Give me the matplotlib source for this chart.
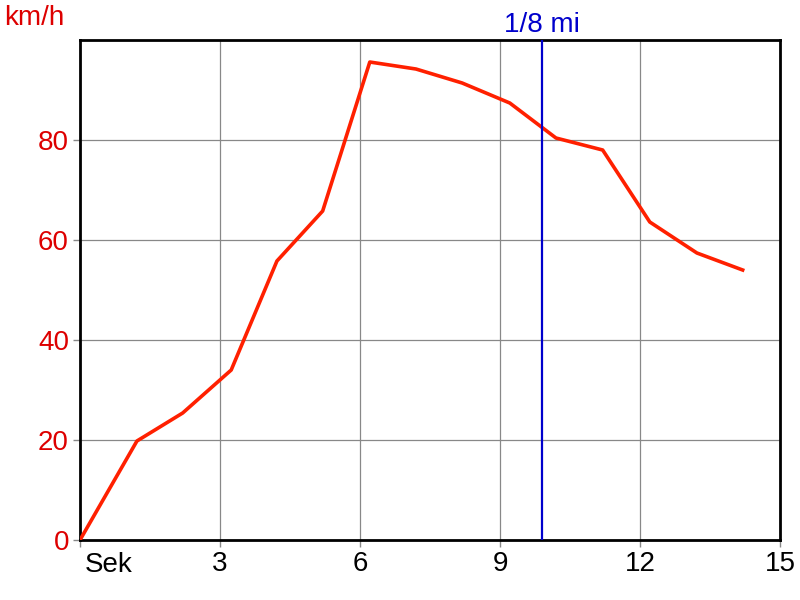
import matplotlib
matplotlib.use('Agg')
import matplotlib.pyplot as plt

plt.rcParams['font.family'] = ['Liberation Sans', 'DejaVu Sans']

# speed over time
seconds = [0, 1.22, 2.2, 3.24, 4.22, 5.2, 6.21, 7.2, 8.19, 9.21, 10.2, 11.2, 12.21, 13.22, 14.2]
speed = [0, 19.8, 25.4, 34.0, 55.8, 65.8, 95.6, 94.2, 91.4, 87.4, 80.4, 78.0, 63.6, 57.4, 54.0]
eighth_mile = 9.9
x_ticks = [0, 3, 6, 9, 12, 15]
x_labels = ['', '3', '6', '9', '12', '15']
y_ticks = [0, 20, 40, 60, 80]

fig = plt.figure(figsize=(8, 6), dpi=100)
ax = fig.add_axes([0.1, 0.1, 0.875, 0.8333])

ax.plot(seconds, speed, color='#ff2000', linewidth=2.6, solid_joinstyle='round', zorder=3)
ax.axvline(eighth_mile, color='#0000cc', linewidth=1.6, zorder=4)

ax.set_xlim(0, 15)
ax.set_ylim(0, 100)
ax.set_xticks(x_ticks)
ax.set_xticklabels(x_labels)
ax.set_yticks(y_ticks)
ax.grid(True, color='#888888', linewidth=0.9)
ax.set_axisbelow(True)

for s in ax.spines.values():
    s.set_linewidth(2)
    s.set_color('black')

ax.tick_params(axis='both', labelsize=20, length=5, width=1, pad=3)
ax.tick_params(axis='x', colors='black', color='#888888')
ax.tick_params(axis='y', labelcolor='#dd0000', color='#888888')

ax.text(0.1, -0.025, 'Sek', transform=ax.get_xaxis_transform(), ha='left', va='top',
        fontsize=20, color='black')
fig.text(0.005, 0.97, 'km/h', ha='left', va='center', fontsize=20, color='#dd0000')
ax.text(eighth_mile, 1.005, '1/8 mi', transform=ax.get_xaxis_transform(), ha='center', va='bottom',
        fontsize=20, color='#0000cc')

fig.savefig('out.png', dpi=100)
